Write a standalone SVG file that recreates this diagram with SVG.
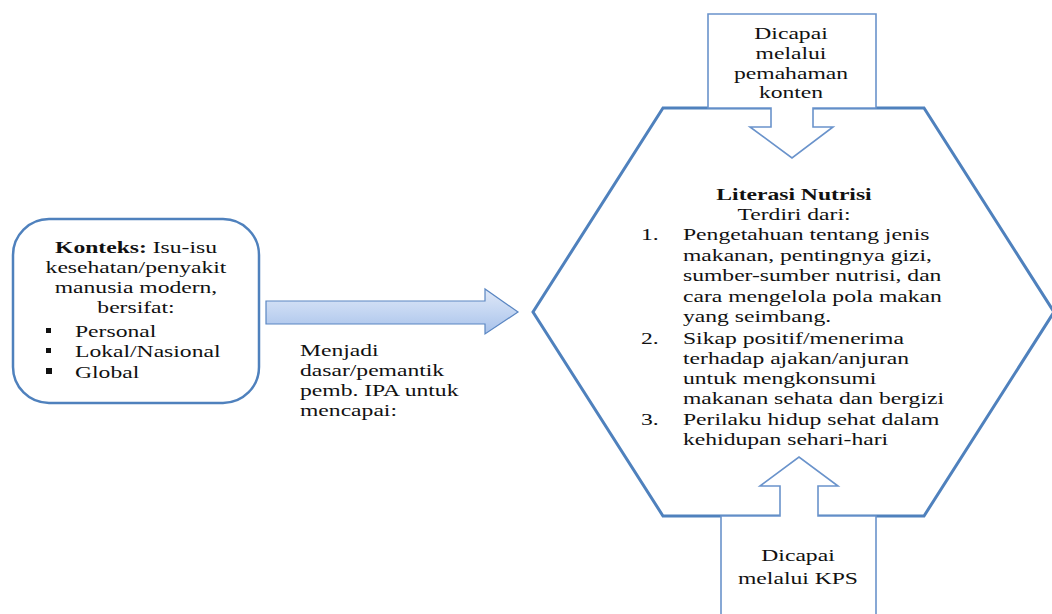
<svg xmlns="http://www.w3.org/2000/svg" width="1052" height="614" viewBox="0 0 1052 614" font-family="'Liberation Serif', 'Times New Roman', serif">
<defs>
<linearGradient id="arrGrad" x1="0" y1="0" x2="0" y2="1">
<stop offset="0" stop-color="#dfe8f7"/>
<stop offset="0.5" stop-color="#c4d6f2"/>
<stop offset="1" stop-color="#a7c1ea"/>
</linearGradient>
<style>
text{font-family:'Liberation Serif','Times New Roman',serif;font-size:17.5px;fill:#111;}
.c{text-anchor:middle;}
.b{font-weight:bold;}
.hex{fill:#fff;stroke:#4f81bd;stroke-width:3;stroke-linejoin:miter;}
.call{fill:#fff;stroke:#6a93cb;stroke-width:1.6;}
.box{fill:#fff;stroke:#4f81bd;stroke-width:2.5;}
.bul{fill:#111;}
</style>
</defs>
<rect width="1052" height="614" fill="#fff"/>

<g id="konteks">
<rect class="box" x="13" y="219" width="246" height="184" rx="36" ry="36"/>
<text class="c" transform="matrix(1.35 0 0 1 136 253)"><tspan class="b">Konteks:</tspan> Isu-isu</text>
<text class="c" transform="matrix(1.35 0 0 1 136 273)">kesehatan/penyakit</text>
<text class="c" transform="matrix(1.35 0 0 1 136 293)">manusia modern,</text>
<text class="c" transform="matrix(1.35 0 0 1 136 313)">bersifat:</text>
<rect class="bul" x="46" y="328" width="5" height="5"/>
<rect class="bul" x="46" y="348" width="5" height="5"/>
<rect class="bul" x="46" y="368" width="6" height="6"/>
<text transform="matrix(1.35 0 0 1 75 337)">Personal</text>
<text transform="matrix(1.35 0 0 1 75 357)">Lokal/Nasional</text>
<text transform="matrix(1.35 0 0 1 75 378)">Global</text>
</g>

<g id="literasi">
<polygon class="hex" points="663,108 924,108 1054,312 924,516 663,516 533,312"/>
<text class="c b" transform="matrix(1.35 0 0 1 794 200)">Literasi Nutrisi</text>
<text class="c" transform="matrix(1.35 0 0 1 794 220)">Terdiri dari:</text>
<text transform="matrix(1.35 0 0 1 641 240)">1.</text>
<text transform="matrix(1.35 0 0 1 683 240)">Pengetahuan tentang jenis</text>
<text transform="matrix(1.35 0 0 1 683 261)">makanan, pentingnya gizi,</text>
<text transform="matrix(1.35 0 0 1 683 281)">sumber-sumber nutrisi, dan</text>
<text transform="matrix(1.35 0 0 1 683 302)">cara mengelola pola makan</text>
<text transform="matrix(1.35 0 0 1 683 322)">yang seimbang.</text>
<text transform="matrix(1.35 0 0 1 641 344)">2.</text>
<text transform="matrix(1.35 0 0 1 683 344)">Sikap positif/menerima</text>
<text transform="matrix(1.35 0 0 1 683 364)">terhadap ajakan/anjuran</text>
<text transform="matrix(1.35 0 0 1 683 384)">untuk mengkonsumi</text>
<text transform="matrix(1.35 0 0 1 683 404)">makanan sehata dan bergizi</text>
<text transform="matrix(1.35 0 0 1 641 425)">3.</text>
<text transform="matrix(1.35 0 0 1 683 425)">Perilaku hidup sehat dalam</text>
<text transform="matrix(1.35 0 0 1 683 445)">kehidupan sehari-hari</text>
</g>

<g id="pemahaman">
<polygon class="call" points="708,14 876,14 876,108 813,108 813,127 833,127 792,158 750,127 771,127 771,108 708,108"/>
<text class="c" transform="matrix(1.35 0 0 1 791 39)">Dicapai</text>
<text class="c" transform="matrix(1.35 0 0 1 791 59)">melalui</text>
<text class="c" transform="matrix(1.35 0 0 1 791 79)">pemahaman</text>
<text class="c" transform="matrix(1.35 0 0 1 791 98)">konten</text>
</g>

<g id="kps">
<polygon class="call" points="721,630 721,516 780,516 780,486 760,486 799,457 838,486 818,486 818,516 876,516 876,630"/>
<text class="c" transform="matrix(1.35 0 0 1 798 561)">Dicapai</text>
<text class="c" transform="matrix(1.35 0 0 1 798 584)">melalui KPS</text>
</g>

<g id="connectors">
<polygon points="266,301 485,301 485,289 518,312 485,334 485,324 266,324" fill="url(#arrGrad)" stroke="#5a86c2" stroke-width="1.2"/>
<text transform="matrix(1.35 0 0 1 300 356)">Menjadi</text>
<text transform="matrix(1.35 0 0 1 300 376)">dasar/pemantik</text>
<text transform="matrix(1.35 0 0 1 300 396)">pemb. IPA untuk</text>
<text transform="matrix(1.35 0 0 1 300 416)">mencapai:</text>
</g>
</svg>
